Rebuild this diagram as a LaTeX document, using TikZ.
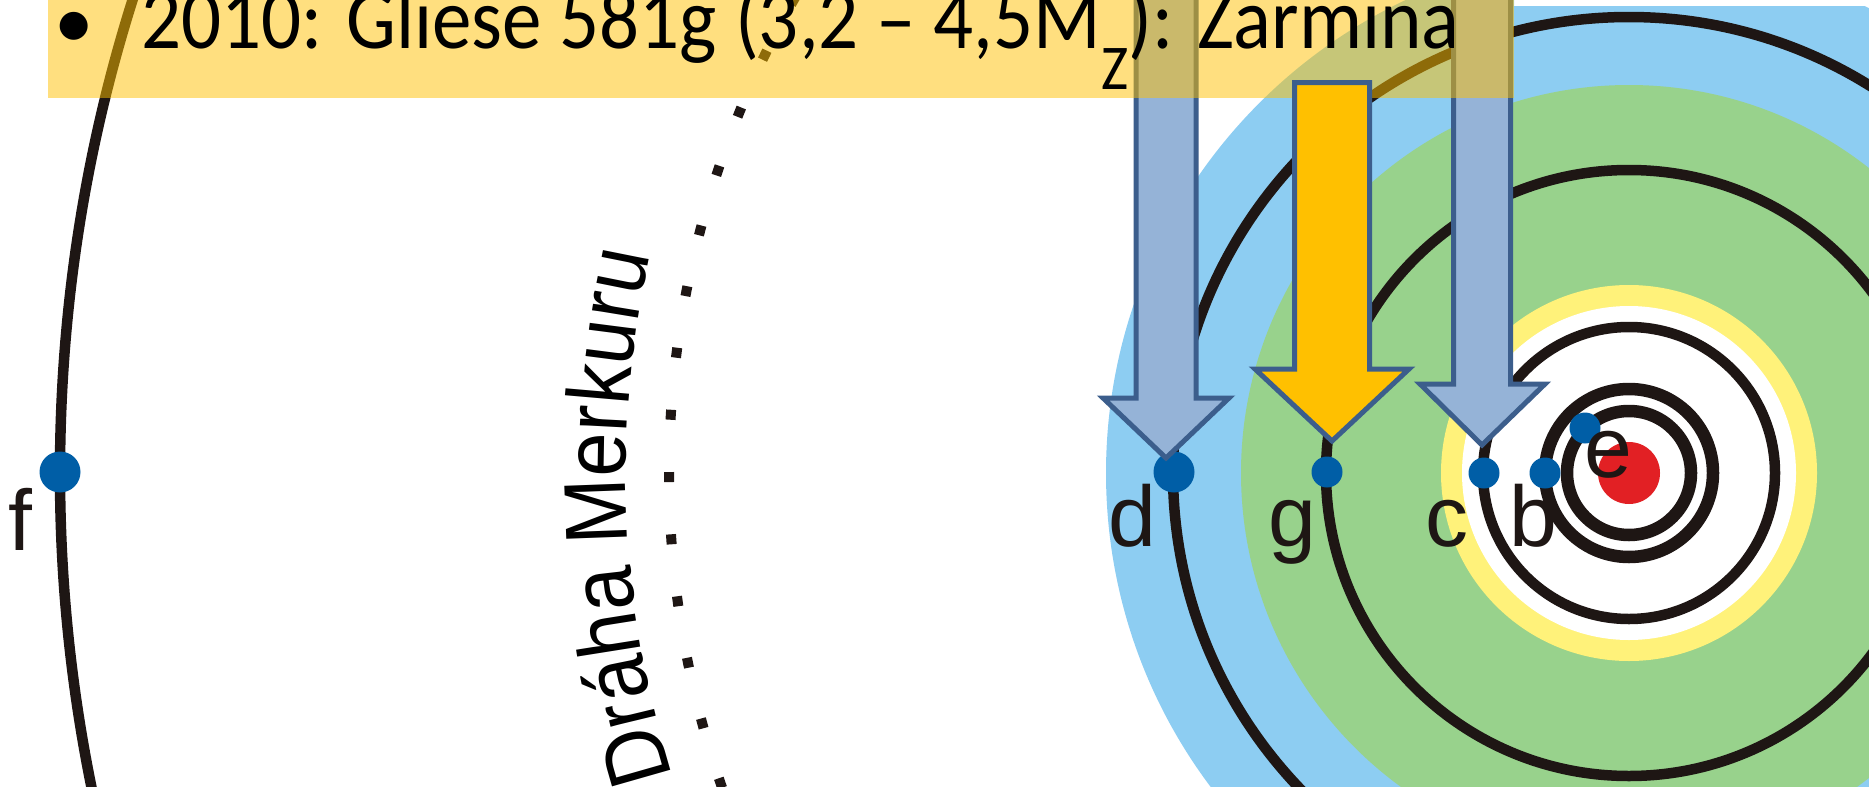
\documentclass[tikz,border=0pt]{standalone}
\usepackage{fontspec}
\setmainfont{Carlito}
\newfontfamily\labelfont{Liberation Sans}
\newfontfamily\orbitfont[FakeStretch=0.9]{Liberation Sans}
\usetikzlibrary{decorations.text,calc}

\definecolor{zoneblue}{RGB}{141,205,242}
\definecolor{zonegreen}{RGB}{152,210,140}
\definecolor{zoneyellow}{RGB}{255,242,122}
\definecolor{orbitink}{RGB}{30,22,20}
\definecolor{planetblue}{RGB}{0,94,166}
\definecolor{starred}{RGB}{226,32,36}
\definecolor{arrowblue}{RGB}{149,179,215}
\definecolor{arrowedge}{RGB}{60,94,140}
\definecolor{arrowgold}{RGB}{255,192,0}
\definecolor{bandgold}{RGB}{255,192,0}

\begin{document}
\begin{tikzpicture}[x=1pt,y=1pt,
  orbit/.style={draw=orbitink,line width=10.5pt},
  innerorbit/.style={draw=orbitink,line width=12.5pt},
  planet/.style={circle,fill=planetblue,inner sep=0pt,minimum size=31pt},
  bigplanet/.style={planet,minimum size=41pt},
  plabel/.style={font=\labelfont\fontsize{86}{86}\selectfont,text=orbitink,inner sep=0pt,anchor=base},
  mercdot/.style={rectangle,fill=orbitink,inner sep=0pt,minimum size=10pt},
  bluearrow/.style={fill=arrowblue,draw=arrowedge,line width=5pt,line join=miter},
  goldarrow/.style={bluearrow,fill=arrowgold},
  band/.style={fill=bandgold,fill opacity=0.5},
  titletext/.style={font=\fontsize{79}{79}\selectfont,text=black,inner sep=0pt,anchor=base west}
]
\useasboundingbox (0,0) rectangle (1869,-787);
\coordinate (sun) at (1629,-473);

% habitable-zone bands, orbits and the dotted orbit of Mercury
\begin{scope}
  \clip (0,0) -- (1514,0) -- (1514,-6) -- (1869,-6) -- (1869,-787) -- (0,-787) -- cycle;
  \fill[zoneblue] (sun) circle[radius=523];
  \fill[zonegreen] (sun) circle[radius=388];
  \fill[zoneyellow] (sun) circle[radius=188];
  \fill[white] (sun) circle[radius=167];
  \foreach \r in {62,84}
    \draw[innerorbit] (sun) circle[radius=\r];
  \foreach \r in {146,303,456,1569}
    \draw[orbit] (sun) circle[radius=\r];
  \foreach \k in {-8,...,5}{
    \pgfmathsetmacro\a{180.24+3.72*\k}
    \node[mercdot,rotate=\a] (m\k) at ([shift={(\a:960)}]sun) {};
  }
  \path[decorate,decoration={text along path,text align=center,
     text={|\orbitfont\fontsize{88}{88}\selectfont|Dráha Merkuru}}]
     ([shift={(202.5:1003)}]sun) arc[start angle=202.5,end angle=162.5,radius=1003];
\end{scope}

% star and planets
\node[circle,fill=starred,inner sep=0pt,minimum size=62pt] (star) at (sun) {};
\node[bigplanet] (f) at (60,-472) {};
\node[bigplanet] (d) at (1174,-472) {};
\node[planet] (g) at (1327,-472) {};
\node[planet] (c) at (1484,-473) {};
\node[planet] (b) at (1545,-473) {};
\node[planet] (e) at (1585,-428) {};

\node[plabel] (lf) at (20,-550) {f};
\node[plabel] (ld) at (1132,-546) {d};
\node[plabel] (lg) at (1292,-546) {g};
\node[plabel] (lc) at (1447,-546) {c};
\node[plabel] (lb) at (1533,-546) {b};
\node[plabel] (le) at (1608,-477) {e};

% pointers to d and c
\draw[bluearrow] (1136,10) -- (1136,-398) -- (1103,-398) -- (1166,-458)
  -- (1229,-398) -- (1196,-398) -- (1196,10) -- cycle;
\draw[bluearrow] (1453.5,10) -- (1453.5,-384) -- (1420,-384) -- (1482,-445)
  -- (1545,-384) -- (1510.5,-384) -- (1510.5,10) -- cycle;

% title band
\fill[band] (48,0) rectangle (1514,-98);
\node[titletext,anchor=base] (bullet) at (74,-48) {•};
\node[titletext] (title) at (141,-48)
  {\scalebox{1}[1.1]{2010: Gliese 581g (3,2 – 4,5M\raisebox{-38pt}{\fontsize{58}{58}\selectfont Z}): Zarmina}};

% pointer to g
\draw[goldarrow] (1294.5,-82.5) -- (1294.5,-369) -- (1255,-369) -- (1332,-441)
  -- (1409,-369) -- (1369.5,-369) -- (1369.5,-82.5) -- cycle;
\end{tikzpicture}
\end{document}
